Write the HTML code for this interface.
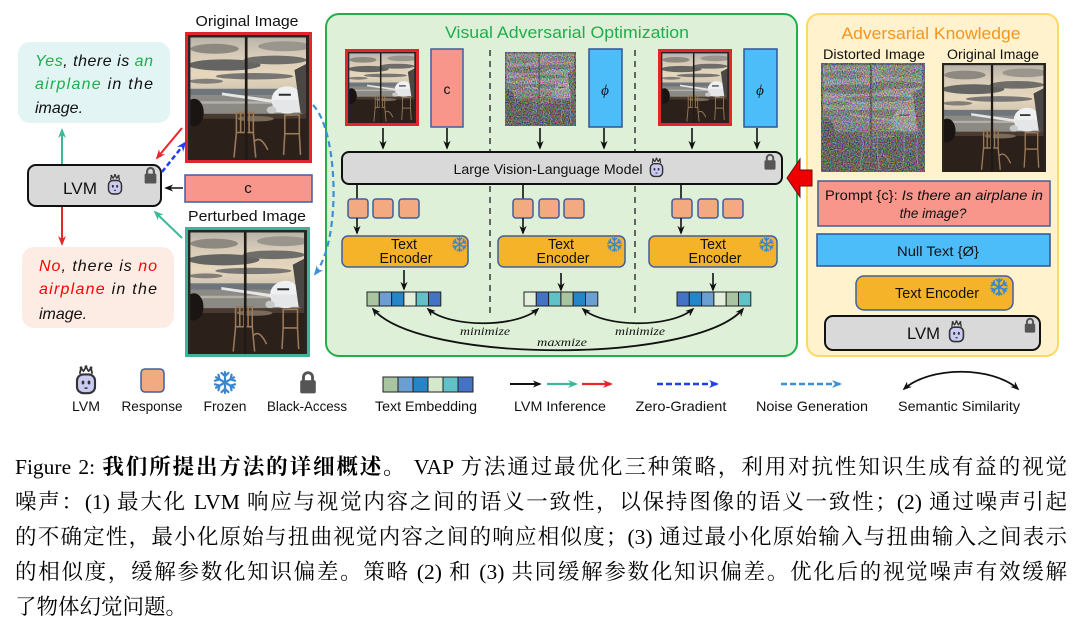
<!DOCTYPE html>
<html>
<head>
<meta charset="utf-8">
<style>
  html,body{margin:0;padding:0;background:#fff;}
  body{width:1082px;height:634px;position:relative;overflow:hidden;}
  .cap{position:absolute;left:15px;top:450px;width:1052px;font-family:"Liberation Serif","Noto Serif CJK SC",serif;font-size:21.5px;line-height:35px;color:#000;}
  .cap .j{text-align:justify;text-align-last:justify;height:35px;}
  .cap b{font-weight:bold;}
</style>
</head>
<body>
<svg width="1082" height="440" viewBox="0 0 1082 440" style="position:absolute;left:0;top:0" font-family="Liberation Sans, Arial, sans-serif">
  <defs>
    <linearGradient id="sky" x1="0" y1="0" x2="0" y2="1">
      <stop offset="0" stop-color="#b5b0a7"/>
      <stop offset="0.35" stop-color="#d8ccb8"/>
      <stop offset="0.7" stop-color="#e6d7bd"/>
      <stop offset="1" stop-color="#cfc4b0"/>
    </linearGradient>
    <symbol id="scene" viewBox="0 0 100 100" preserveAspectRatio="none">
      <rect width="100" height="100" fill="#2a221c"/>
      <rect x="0" y="0" width="100" height="46" fill="url(#sky)"/>
      <ellipse cx="22" cy="11" rx="20" ry="4" fill="#8d8981"/>
      <ellipse cx="80" cy="9" rx="22" ry="4" fill="#9b968d"/>
      <ellipse cx="30" cy="24" rx="30" ry="4.5" fill="#646463"/>
      <ellipse cx="72" cy="20" rx="26" ry="3.5" fill="#6e6d6a"/>
      <ellipse cx="55" cy="33" rx="32" ry="2.6" fill="#787674"/>
      <ellipse cx="15" cy="37" rx="14" ry="2" fill="#827f7a"/>
      <rect x="0" y="43" width="100" height="5" fill="#6e767c"/>
      <rect x="0" y="48" width="100" height="16" fill="#8c8a85"/>
      <rect x="0" y="53" width="100" height="2" fill="#b3b0a8"/>
      <polygon points="28,46 72,52 72,54.5 28,48.2" fill="#e6e6e6"/>
      <ellipse cx="82" cy="52" rx="13" ry="11" fill="#eef0f2"/>
      <rect x="70" y="52" width="24" height="10" fill="#e4e6e8"/>
      <rect x="75" y="47" width="10" height="1.6" fill="#2f2f33"/>
      <ellipse cx="69" cy="60" rx="4" ry="3" fill="#c8c8c8"/>
      <polygon points="88,28 100,22 100,65 93,62" fill="#4b4744"/>
      <rect x="0" y="63" width="100" height="4" fill="#4a3b30"/>
      <rect x="0" y="67" width="100" height="33" fill="#2b211a"/>
      <ellipse cx="56" cy="67" rx="15" ry="2.2" fill="#7a6a5a"/>
      <g stroke="#9a7a58" stroke-width="1.3" fill="none">
        <rect x="40" y="62" width="14" height="16"/>
        <line x1="43.5" y1="62" x2="43.5" y2="78"/>
        <line x1="47" y1="62" x2="47" y2="78"/>
        <line x1="50.5" y1="62" x2="50.5" y2="78"/>
        <line x1="40" y1="78" x2="38" y2="98"/>
        <line x1="54" y1="78" x2="56" y2="98"/>
        <rect x="80" y="64" width="12" height="15"/>
        <line x1="80" y1="79" x2="79" y2="96"/>
        <line x1="92" y1="79" x2="93" y2="96"/>
        <path d="M55 85 Q60 80 66 92"/>
      </g>
      <ellipse cx="5" cy="62" rx="8" ry="11" fill="#1a1512"/>
      <rect x="47" y="0" width="2.2" height="100" fill="#1f1a16"/>
      <rect x="0" y="0" width="100" height="2" fill="#2a2520"/>
      <rect x="0" y="0" width="2" height="100" fill="#2a2520"/>
      <rect x="97.5" y="0" width="2.5" height="100" fill="#2a2520"/>
    </symbol>
    <filter id="noisy" x="0" y="0" width="1" height="1" color-interpolation-filters="sRGB">
      <feColorMatrix in="SourceGraphic" type="saturate" values="0.15" result="g"/>
      <feComponentTransfer in="g" result="g2">
        <feFuncR type="linear" slope="0.6" intercept="0.2"/>
        <feFuncG type="linear" slope="0.6" intercept="0.2"/>
        <feFuncB type="linear" slope="0.6" intercept="0.2"/>
      </feComponentTransfer>
      <feTurbulence type="fractalNoise" baseFrequency="0.85" numOctaves="1" seed="5" result="t"/>
      <feColorMatrix in="t" type="matrix" values="2.2 0 0 0 -0.6  0 2.2 0 0 -0.6  0 0 2.2 0 -0.6  0 0 0 0 0.55" result="n"/>
      <feComposite in="n" in2="g2" operator="over" result="c"/>
      <feComposite in="c" in2="SourceAlpha" operator="in"/>
    </filter>
    <symbol id="robot" viewBox="0 0 20 24">
      <path d="M5 7 L6 2.5 L8 5 L10 1.5 L12 5 L14 2.5 L15 7" stroke="#333" stroke-width="1.4" fill="none" stroke-linejoin="round"/>
      <circle cx="6" cy="2.2" r="1.1" fill="#333"/>
      <circle cx="10" cy="1.3" r="1.1" fill="#333"/>
      <circle cx="14" cy="2.2" r="1.1" fill="#333"/>
      <rect x="2.8" y="7.5" width="14.4" height="15" rx="5" fill="#c9cbf2" stroke="#333" stroke-width="1.7"/>
      <ellipse cx="7.6" cy="14" rx="1.1" ry="1.6" fill="#333"/>
      <ellipse cx="12.4" cy="14" rx="1.1" ry="1.6" fill="#333"/>
      <line x1="8.8" y1="18.5" x2="11.2" y2="18.5" stroke="#333" stroke-width="1.2"/>
    </symbol>
    <symbol id="lock" viewBox="0 0 16 20">
      <path d="M4.2 9 V6 A3.8 3.8 0 0 1 11.8 6 V9" stroke="#555" stroke-width="2.4" fill="none"/>
      <rect x="1.5" y="8.5" width="13" height="11" rx="1.5" fill="#555"/>
    </symbol>
    <symbol id="snow" viewBox="-10 -10 20 20">
      <g stroke="#3a86d0" stroke-width="1.9" stroke-linecap="round" fill="none">
        <path id="arm" d="M0 0 V-9 M-3 -8.3 L0 -5.5 L3 -8.3"/>
        <use href="#arm" transform="rotate(60)"/>
        <use href="#arm" transform="rotate(120)"/>
        <use href="#arm" transform="rotate(180)"/>
        <use href="#arm" transform="rotate(240)"/>
        <use href="#arm" transform="rotate(300)"/>
      </g>
    </symbol>
    <marker id="mk" viewBox="0 0 10 10" refX="8" refY="5" markerWidth="9" markerHeight="9" markerUnits="userSpaceOnUse" orient="auto-start-reverse"><path d="M0,1 L10,5 L0,9 L3,5 z" fill="#111"/></marker>
    <marker id="mt" viewBox="0 0 10 10" refX="8" refY="5" markerWidth="10" markerHeight="10" markerUnits="userSpaceOnUse" orient="auto-start-reverse"><path d="M0,1 L10,5 L0,9 L3,5 z" fill="#3fb89a"/></marker>
    <marker id="mr" viewBox="0 0 10 10" refX="8" refY="5" markerWidth="10" markerHeight="10" markerUnits="userSpaceOnUse" orient="auto-start-reverse"><path d="M0,1 L10,5 L0,9 L3,5 z" fill="#e8262c"/></marker>
    <marker id="mb" viewBox="0 0 10 10" refX="8" refY="5" markerWidth="10" markerHeight="10" markerUnits="userSpaceOnUse" orient="auto-start-reverse"><path d="M0,1 L10,5 L0,9 L3,5 z" fill="#1f3ff5"/></marker>
    <marker id="ml" viewBox="0 0 10 10" refX="8" refY="5" markerWidth="10" markerHeight="10" markerUnits="userSpaceOnUse" orient="auto-start-reverse"><path d="M0,1 L10,5 L0,9 L3,5 z" fill="#3a8fd6"/></marker>
  </defs>

  <!-- ================= LEFT ================= -->
  <text x="247" y="26" font-size="14.5" text-anchor="middle" textLength="103" lengthAdjust="spacingAndGlyphs" fill="#111">Original Image</text>
  <use href="#scene" x="188" y="35" width="121" height="125"/>
  <rect x="186.5" y="33.5" width="124" height="128" fill="none" stroke="#e0262b" stroke-width="3"/>

  <rect x="18" y="42" width="152" height="81" rx="12" fill="#e2f4f4"/>
  <text x="35" y="66" font-size="16" font-style="italic" textLength="118" lengthAdjust="spacing" fill="#111"><tspan fill="#1fae4b">Yes</tspan>, there is <tspan fill="#1fae4b">an</tspan></text>
  <text x="35" y="89" font-size="16" font-style="italic" textLength="118" lengthAdjust="spacing" fill="#111"><tspan fill="#1fae4b">airplane</tspan> in the</text>
  <text x="35" y="113" font-size="16" font-style="italic" fill="#111">image.</text>

  <rect x="22" y="247" width="152" height="81" rx="12" fill="#fdece4"/>
  <text x="39" y="271" font-size="16" font-style="italic" textLength="118" lengthAdjust="spacing" fill="#111"><tspan fill="#ff0000">No</tspan>, there is <tspan fill="#ff0000">no</tspan></text>
  <text x="39" y="294" font-size="16" font-style="italic" textLength="118" lengthAdjust="spacing" fill="#111"><tspan fill="#ff0000">airplane</tspan> in the</text>
  <text x="39" y="319" font-size="16" font-style="italic" fill="#111">image.</text>

  <rect x="28" y="165" width="133" height="41" rx="8" fill="#d9d9d9" stroke="#111" stroke-width="2"/>
  <text x="63" y="194" font-size="17" textLength="34" lengthAdjust="spacingAndGlyphs" fill="#111">LVM</text>
  <use href="#robot" x="106" y="173" width="18" height="23"/>
  <use href="#lock" x="143" y="166" width="15" height="18"/>

  <line x1="62" y1="164" x2="62" y2="130" stroke="#3fb89a" stroke-width="2" marker-end="url(#mt)"/>
  <line x1="62" y1="207" x2="62" y2="244" stroke="#e8262c" stroke-width="2" marker-end="url(#mr)"/>
  <line x1="182" y1="128" x2="157" y2="158" stroke="#e8262c" stroke-width="2" marker-end="url(#mr)"/>
  <line x1="162" y1="172" x2="185" y2="143" stroke="#1f3ff5" stroke-width="2.5" stroke-dasharray="5,3" marker-end="url(#mb)"/>
  <line x1="182" y1="238" x2="155" y2="212" stroke="#3fb89a" stroke-width="2" marker-end="url(#mt)"/>

  <rect x="185" y="175" width="127" height="27" fill="#f8968c" stroke="#3f5ea0" stroke-width="1.5"/>
  <text x="248" y="193" font-size="15" text-anchor="middle" fill="#111">c</text>
  <line x1="183" y1="188" x2="166" y2="188" stroke="#111" stroke-width="1.5" marker-end="url(#mk)"/>

  <text x="247" y="221" font-size="14.5" text-anchor="middle" textLength="118" lengthAdjust="spacingAndGlyphs" fill="#111">Perturbed Image</text>
  <use href="#scene" x="188" y="230" width="119" height="124"/>
  <rect x="186.5" y="228.5" width="122" height="127" fill="none" stroke="#3fb39a" stroke-width="3"/>

  <!-- ================= VAO ================= -->
  <rect x="326" y="14" width="471" height="342" rx="13" fill="#dff0d8" stroke="#20b04b" stroke-width="2"/>
  <text x="567" y="38" font-size="17" text-anchor="middle" textLength="244" lengthAdjust="spacingAndGlyphs" fill="#1fae4b">Visual Adversarial Optimization</text>

  <g stroke="#444" stroke-width="1.6" stroke-dasharray="6,5">
    <line x1="490" y1="50" x2="490" y2="152"/>
    <line x1="490" y1="186" x2="490" y2="313"/>
    <line x1="635" y1="50" x2="635" y2="152"/>
    <line x1="635" y1="186" x2="635" y2="313"/>
  </g>

  <use href="#scene" x="348" y="52" width="68" height="71"/>
  <rect x="346.5" y="50.5" width="71" height="74" fill="none" stroke="#e0262b" stroke-width="3"/>
  <rect x="431" y="49" width="32" height="78" fill="#f8968c" stroke="#3f5ea0" stroke-width="1.5"/>
  <text x="447" y="94" font-size="14" text-anchor="middle" fill="#111">c</text>

  <g filter="url(#noisy)"><use href="#scene" x="505" y="52" width="71" height="74"/></g>
  <rect x="589" y="49" width="33" height="78" fill="#4dbdf9" stroke="#2f5597" stroke-width="1.5"/>
  <text x="605" y="95" font-size="15" font-style="italic" text-anchor="middle" fill="#111" font-family="Liberation Serif, serif">ϕ</text>

  <use href="#scene" x="661" y="52" width="68" height="71"/>
  <rect x="659.5" y="50.5" width="71" height="74" fill="none" stroke="#e0262b" stroke-width="3"/>
  <rect x="744" y="49" width="33" height="78" fill="#4dbdf9" stroke="#2f5597" stroke-width="1.5"/>
  <text x="760" y="95" font-size="15" font-style="italic" text-anchor="middle" fill="#111" font-family="Liberation Serif, serif">ϕ</text>

  <g stroke="#111" stroke-width="1.6">
    <line x1="383" y1="128" x2="383" y2="148" marker-end="url(#mk)"/>
    <line x1="447" y1="128" x2="447" y2="148" marker-end="url(#mk)"/>
    <line x1="540" y1="128" x2="540" y2="148" marker-end="url(#mk)"/>
    <line x1="604" y1="128" x2="604" y2="148" marker-end="url(#mk)"/>
    <line x1="692" y1="128" x2="692" y2="148" marker-end="url(#mk)"/>
    <line x1="757" y1="128" x2="757" y2="148" marker-end="url(#mk)"/>
  </g>

  <rect x="342" y="152" width="440" height="32" rx="7" fill="#d9d9d9" stroke="#111" stroke-width="2"/>
  <text x="548" y="174" font-size="14" text-anchor="middle" textLength="189" lengthAdjust="spacingAndGlyphs" fill="#111">Large Vision-Language Model</text>
  <use href="#robot" x="648" y="157" width="17" height="21"/>
  <use href="#lock" x="763" y="153" width="14" height="17"/>

  <g stroke="#111" stroke-width="1.6">
    <line x1="357" y1="184" x2="357" y2="199"/>
    <line x1="523" y1="184" x2="523" y2="199"/>
    <line x1="681" y1="184" x2="681" y2="199"/>
  </g>
  <g fill="#f4aa80" stroke="#3f5ea0" stroke-width="1.5">
    <rect x="348" y="199" width="20" height="19" rx="3"/>
    <rect x="373" y="199" width="20" height="19" rx="3"/>
    <rect x="399" y="199" width="20" height="19" rx="3"/>
    <rect x="513" y="199" width="20" height="19" rx="3"/>
    <rect x="539" y="199" width="20" height="19" rx="3"/>
    <rect x="564" y="199" width="20" height="19" rx="3"/>
    <rect x="672" y="199" width="20" height="19" rx="3"/>
    <rect x="698" y="199" width="20" height="19" rx="3"/>
    <rect x="723" y="199" width="20" height="19" rx="3"/>
  </g>
  <g stroke="#111" stroke-width="1.6">
    <line x1="357" y1="218" x2="357" y2="233" marker-end="url(#mk)"/>
    <line x1="523" y1="218" x2="523" y2="233" marker-end="url(#mk)"/>
    <line x1="681" y1="218" x2="681" y2="233" marker-end="url(#mk)"/>
  </g>

  <g fill="#f5b32a" stroke="#3f5ea0" stroke-width="1.5">
    <rect x="342" y="236" width="126" height="31" rx="6"/>
    <rect x="498" y="236" width="127" height="31" rx="6"/>
    <rect x="649" y="236" width="128" height="31" rx="6"/>
  </g>
  <g font-size="15" fill="#111" text-anchor="middle">
    <text x="404" y="249" textLength="26" lengthAdjust="spacingAndGlyphs">Text</text>
    <text x="406" y="263" textLength="53" lengthAdjust="spacingAndGlyphs">Encoder</text>
    <text x="561" y="249" textLength="26" lengthAdjust="spacingAndGlyphs">Text</text>
    <text x="563" y="263" textLength="53" lengthAdjust="spacingAndGlyphs">Encoder</text>
    <text x="713" y="249" textLength="26" lengthAdjust="spacingAndGlyphs">Text</text>
    <text x="715" y="263" textLength="53" lengthAdjust="spacingAndGlyphs">Encoder</text>
  </g>
  <use href="#snow" x="452" y="237" width="15" height="15"/>
  <use href="#snow" x="607" y="237" width="15" height="15"/>
  <use href="#snow" x="759" y="237" width="15" height="15"/>

  <g stroke="#111" stroke-width="1.6">
    <line x1="404" y1="270" x2="404" y2="289" marker-end="url(#mk)"/>
    <line x1="561" y1="273" x2="561" y2="290" marker-end="url(#mk)"/>
    <line x1="713" y1="273" x2="713" y2="290" marker-end="url(#mk)"/>
  </g>

  <g stroke="#222" stroke-width="1">
    <rect x="367" y="292" width="12.3" height="14" fill="#a9c4a0"/>
    <rect x="379.3" y="292" width="12.3" height="14" fill="#6b9fd1"/>
    <rect x="391.6" y="292" width="12.3" height="14" fill="#2585c7"/>
    <rect x="403.9" y="292" width="12.3" height="14" fill="#e2efda"/>
    <rect x="416.2" y="292" width="12.3" height="14" fill="#62c1c7"/>
    <rect x="428.5" y="292" width="12.3" height="14" fill="#4472c4"/>

    <rect x="524" y="292" width="12.3" height="14" fill="#e2efda"/>
    <rect x="536.3" y="292" width="12.3" height="14" fill="#4472c4"/>
    <rect x="548.6" y="292" width="12.3" height="14" fill="#62c1c7"/>
    <rect x="560.9" y="292" width="12.3" height="14" fill="#a9c4a0"/>
    <rect x="573.2" y="292" width="12.3" height="14" fill="#2585c7"/>
    <rect x="585.5" y="292" width="12.3" height="14" fill="#6b9fd1"/>

    <rect x="677" y="292" width="12.3" height="14" fill="#4472c4"/>
    <rect x="689.3" y="292" width="12.3" height="14" fill="#2585c7"/>
    <rect x="701.6" y="292" width="12.3" height="14" fill="#6b9fd1"/>
    <rect x="713.9" y="292" width="12.3" height="14" fill="#e2efda"/>
    <rect x="726.2" y="292" width="12.3" height="14" fill="#a9c4a0"/>
    <rect x="738.5" y="292" width="12.3" height="14" fill="#62c1c7"/>
  </g>

  <g fill="none" stroke="#111" stroke-width="1.8">
    <path d="M428 309 C450 328, 516 328, 538 309" marker-start="url(#mk)" marker-end="url(#mk)"/>
    <path d="M583 309 C605 328, 671 328, 693 309" marker-start="url(#mk)" marker-end="url(#mk)"/>
    <path d="M373 309 C420 364, 696 364, 743 309" marker-start="url(#mk)" marker-end="url(#mk)"/>
  </g>
  <g font-family="Liberation Serif, serif" font-style="italic" font-size="11.5" fill="#111" text-anchor="middle">
    <text x="485" y="335" textLength="50" lengthAdjust="spacingAndGlyphs">minimize</text>
    <text x="640" y="335" textLength="50" lengthAdjust="spacingAndGlyphs">minimize</text>
    <text x="562" y="346" textLength="50" lengthAdjust="spacingAndGlyphs">maxmize</text>
  </g>

  <!-- noise generation dashed curve -->
  <path d="M313 105 C338 130, 342 240, 315 274" fill="none" stroke="#3a8fd6" stroke-width="2.2" stroke-dasharray="6,4" marker-end="url(#ml)"/>

  <!-- ================= RIGHT ================= -->
  <rect x="807" y="14" width="251" height="342" rx="12" fill="#fff2cc" stroke="#ffd966" stroke-width="2"/>
  <text x="931" y="39" font-size="17" text-anchor="middle" textLength="179" lengthAdjust="spacingAndGlyphs" fill="#f7941d">Adversarial Knowledge</text>
  <text x="874" y="59" font-size="13.5" text-anchor="middle" textLength="102" lengthAdjust="spacingAndGlyphs" fill="#111">Distorted Image</text>
  <text x="993" y="59" font-size="13.5" text-anchor="middle" textLength="92" lengthAdjust="spacingAndGlyphs" fill="#111">Original Image</text>
  <g filter="url(#noisy)"><use href="#scene" x="821" y="63" width="104" height="109"/></g>
  <use href="#scene" x="942" y="63" width="104" height="109"/>

  <polygon points="787,178 800,159 800,170 812,170 812,186 800,186 800,197" fill="#ee0000" stroke="#6a1010" stroke-width="1"/>

  <rect x="818" y="181" width="232" height="45" fill="#f8968c" stroke="#3f5ea0" stroke-width="1.5"/>
  <text x="825" y="200" font-size="13.5" textLength="218" lengthAdjust="spacingAndGlyphs" fill="#111">Prompt {c}: <tspan font-style="italic">Is there an airplane in</tspan></text>
  <text x="933" y="218" font-size="13.5" font-style="italic" text-anchor="middle" fill="#111">the image?</text>

  <rect x="817" y="234" width="233" height="32" fill="#4dbdf9" stroke="#2f5597" stroke-width="1.5"/>
  <text x="938" y="256" font-size="14" text-anchor="middle" textLength="82" lengthAdjust="spacingAndGlyphs" fill="#111">Null Text {Ø}</text>

  <rect x="856" y="276" width="157" height="34" rx="8" fill="#f5b32a" stroke="#3f5ea0" stroke-width="1.5"/>
  <text x="937" y="298" font-size="14.5" text-anchor="middle" textLength="84" lengthAdjust="spacingAndGlyphs" fill="#111">Text Encoder</text>
  <use href="#snow" x="990" y="278" width="18" height="18"/>

  <rect x="825" y="316" width="215" height="34" rx="8" fill="#d9d9d9" stroke="#111" stroke-width="2"/>
  <text x="907" y="339" font-size="17" textLength="33" lengthAdjust="spacingAndGlyphs" fill="#111">LVM</text>
  <use href="#robot" x="946" y="320" width="21" height="23"/>
  <use href="#lock" x="1023" y="317" width="14" height="16"/>

  <!-- ================= LEGEND ================= -->
  <use href="#robot" x="73" y="365" width="26" height="30"/>
  <rect x="141" y="369" width="23" height="23" rx="4" fill="#f4aa80" stroke="#3f5ea0" stroke-width="1.5"/>
  <use href="#snow" x="213" y="371" width="24" height="23"/>
  <use href="#lock" x="298" y="370" width="20" height="24"/>
  <g stroke="#222" stroke-width="1">
    <rect x="383" y="377" width="15" height="15" fill="#a9c4a0"/>
    <rect x="398" y="377" width="15" height="15" fill="#6b9fd1"/>
    <rect x="413" y="377" width="15" height="15" fill="#2585c7"/>
    <rect x="428" y="377" width="15" height="15" fill="#d5e8cc"/>
    <rect x="443" y="377" width="15" height="15" fill="#62c1c7"/>
    <rect x="458" y="377" width="15" height="15" fill="#4472c4"/>
  </g>
  <line x1="510" y1="384" x2="540" y2="384" stroke="#111" stroke-width="2" marker-end="url(#mk)"/>
  <line x1="547" y1="384" x2="576" y2="384" stroke="#3fb89a" stroke-width="2.2" marker-end="url(#mt)"/>
  <line x1="582" y1="384" x2="611" y2="384" stroke="#e8262c" stroke-width="2.2" marker-end="url(#mr)"/>
  <line x1="657" y1="384" x2="717" y2="384" stroke="#1f3ff5" stroke-width="2.5" stroke-dasharray="6,3" marker-end="url(#mb)"/>
  <line x1="781" y1="384" x2="840" y2="384" stroke="#3a8fd6" stroke-width="2.5" stroke-dasharray="6,3" marker-end="url(#ml)"/>
  <path d="M904 389 C930 366, 992 366, 1018 389" fill="none" stroke="#111" stroke-width="1.8" marker-start="url(#mk)" marker-end="url(#mk)"/>

  <g font-size="14" fill="#111" text-anchor="middle">
    <text x="86" y="411" textLength="28" lengthAdjust="spacingAndGlyphs">LVM</text>
    <text x="152" y="411" textLength="61" lengthAdjust="spacingAndGlyphs">Response</text>
    <text x="225" y="411" textLength="43" lengthAdjust="spacingAndGlyphs">Frozen</text>
    <text x="307" y="411" textLength="80" lengthAdjust="spacingAndGlyphs">Black-Access</text>
    <text x="426" y="411" textLength="102" lengthAdjust="spacingAndGlyphs">Text Embedding</text>
    <text x="560" y="411" textLength="92" lengthAdjust="spacingAndGlyphs">LVM Inference</text>
    <text x="681" y="411" textLength="91" lengthAdjust="spacingAndGlyphs">Zero-Gradient</text>
    <text x="812" y="411" textLength="112" lengthAdjust="spacingAndGlyphs">Noise Generation</text>
    <text x="959" y="411" textLength="122" lengthAdjust="spacingAndGlyphs">Semantic Similarity</text>
  </g>
</svg>

<div class="cap">
  <div class="j">Figure 2: <b>我们所提出方法的详细概述。</b> VAP 方法通过最优化三种策略，利用对抗性知识生成有益的视觉</div>
  <div class="j">噪声：(1) 最大化 LVM 响应与视觉内容之间的语义一致性，以保持图像的语义一致性；(2) 通过噪声引起</div>
  <div class="j">的不确定性，最小化原始与扭曲视觉内容之间的响应相似度；(3) 通过最小化原始输入与扭曲输入之间表示</div>
  <div class="j">的相似度，缓解参数化知识偏差。策略 (2) 和 (3) 共同缓解参数化知识偏差。优化后的视觉噪声有效缓解</div>
  <div>了物体幻觉问题。</div>
</div>
</body>
</html>
